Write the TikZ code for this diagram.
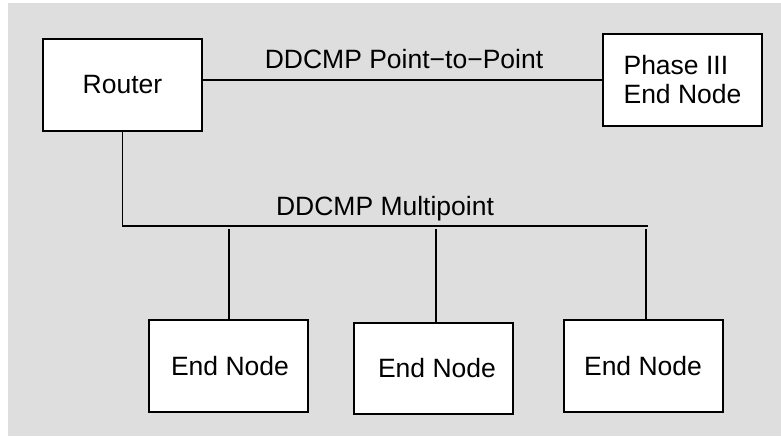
\documentclass[tikz,border=0pt]{standalone}
\usepackage{fontspec}
\setmainfont{Liberation Sans}
\definecolor{bggray}{HTML}{DEDEDE}
\begin{document}
\begin{tikzpicture}[x=1pt,y=-1pt,
  box/.style={draw=black,line width=2pt,fill=white,minimum width=159pt,minimum height=92pt,inner sep=0pt,font=\fontsize{26.5}{29}\selectfont},
  wire/.style={draw=black,line width=1.2pt},
  lbl/.style={anchor=base,inner sep=0pt,font=\fontsize{26.5}{29}\selectfont}]
\useasboundingbox (0,0) rectangle (781,436);
\fill[bggray] (8,3) rectangle (781,436);
\node[box] (router) at (122.5,85) {Router};
\node[box,align=left] (phase) at (682.5,80) {Phase III\\End Node};
\node[box] (e1) at (228.5,366) {\hspace{3pt}End Node};
\node[box,minimum height=91pt] (e2) at (433.5,368.5) {\hspace{7pt}End Node};
\node[box] (e3) at (643,366) {End Node\hspace{12pt}};
\coordinate (busR) at (648,226);
\coordinate (d1) at (229,229);
\coordinate (d2) at (436,229);
\coordinate (d3) at (646,229);
\draw[wire] (phase.west) -- (phase.west -| router.east);
\draw[wire] (router.south) -- (router.south |- busR) -- (busR);
\draw[wire] (d1) -- (d1 |- e1.north);
\draw[wire] (d2) -- (d2 |- e2.north);
\draw[wire] (d3) -- (d3 |- e3.north);
\node[lbl] (p2p) at (404,68) {DDCMP Point−to−Point};
\node[lbl] (mp) at (385,215) {DDCMP Multipoint};
\end{tikzpicture}
\end{document}
